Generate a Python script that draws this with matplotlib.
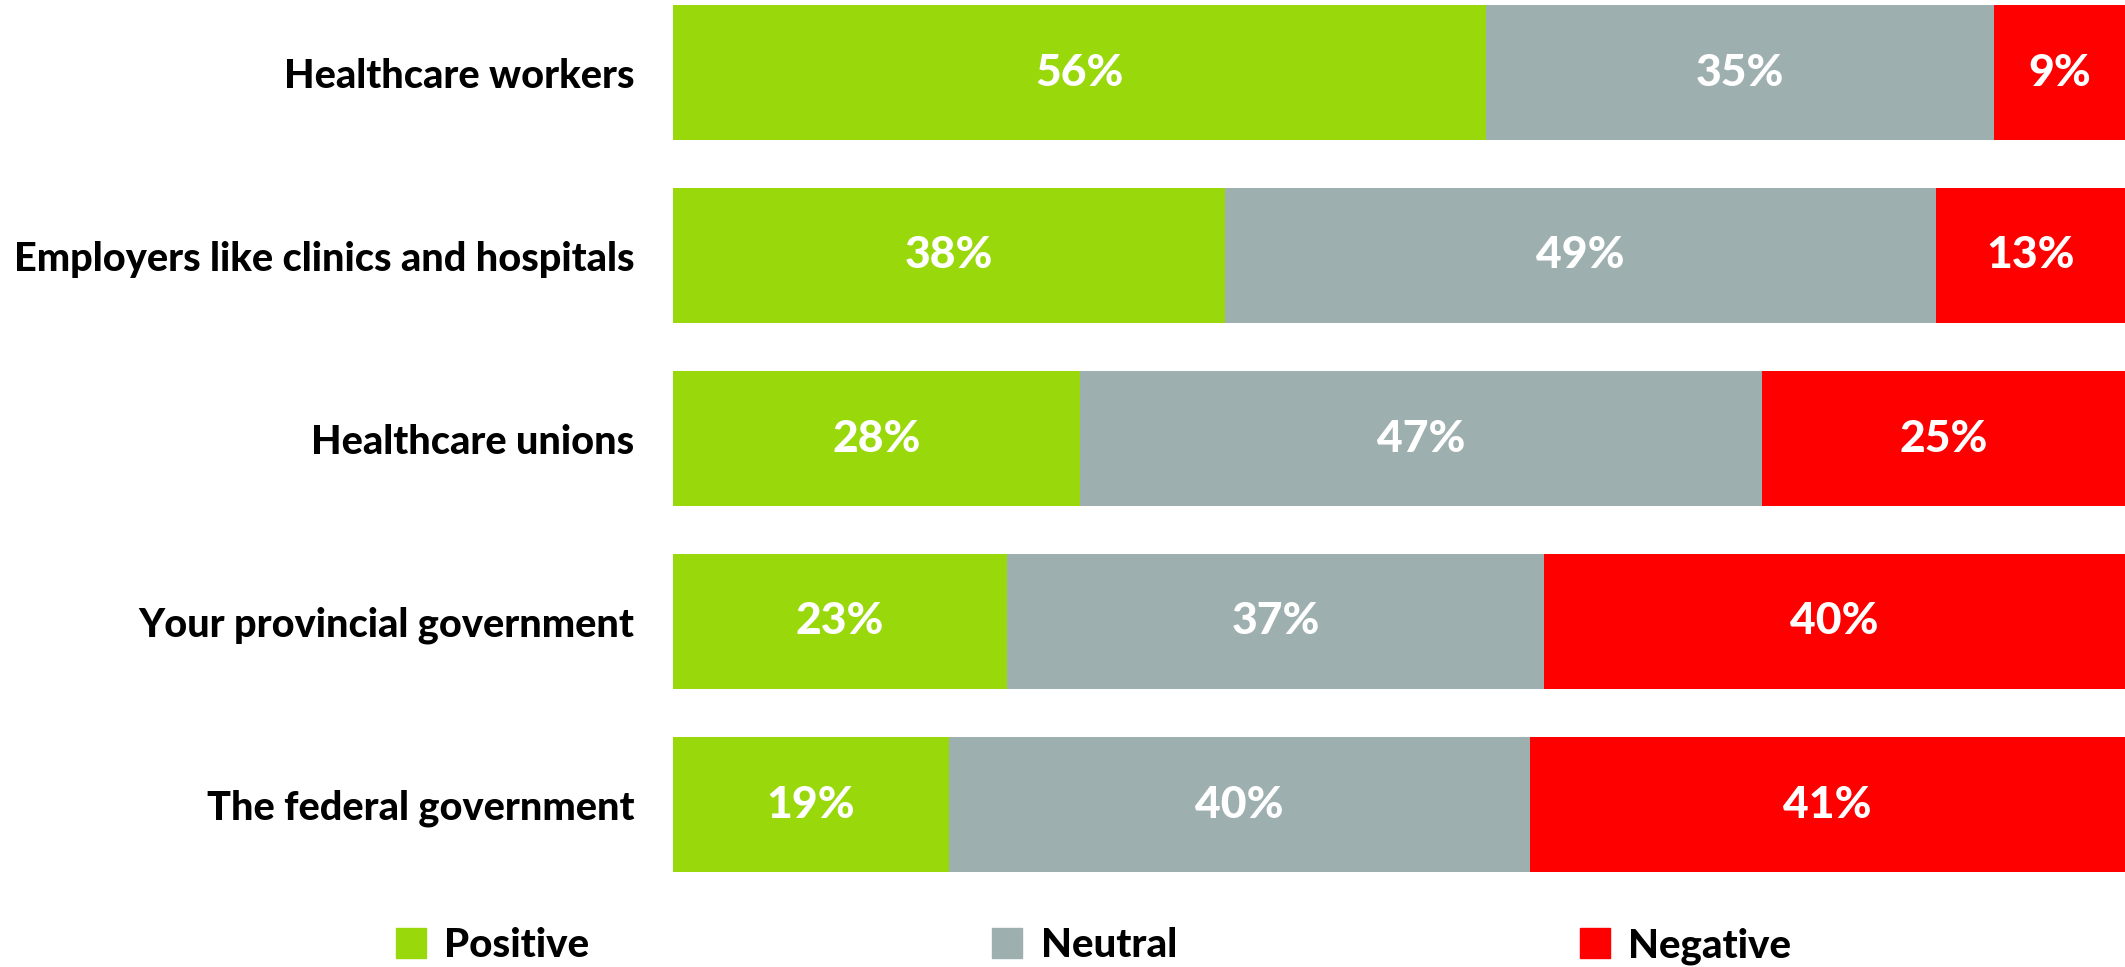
import numpy as np
import matplotlib.pyplot as plt
from matplotlib.patches import Patch

plt.rcParams['font.family'] = ['Lato', 'DejaVu Sans']

# data
groups = ['Healthcare workers', 'Employers like clinics and hospitals', 'Healthcare unions',
          'Your provincial government', 'The federal government']
positive = [56, 38, 28, 23, 19]
neutral = [35, 49, 47, 37, 40]
negative = [9, 13, 25, 40, 41]
series_names = ['Positive', 'Neutral', 'Negative']
colors = ['#99D80A', '#9DAFAE', '#FF0000']

fig = plt.figure(figsize=(21.25, 9.67), dpi=100)
ax = fig.add_axes([673 / 2125, 95 / 967, 1 - 673 / 2125, 867 / 967])

y = np.arange(len(groups))
h = 135 / 183
left = np.zeros(len(groups))
for vals, name, c in zip([positive, neutral, negative], series_names, colors):
    bars = ax.barh(y, vals, left=left, height=h, color=c, label=name)
    ax.bar_label(bars, labels=[f'{v}%' for v in vals], label_type='center',
                 color='white', fontsize=32, fontweight='black')
    left += np.array(vals)

ax.set_xlim(0, 100)
ax.set_ylim(len(groups) - 1 + h / 2, -h / 2)
ax.set_yticks(y)
ax.set_yticklabels(groups, fontsize=28.5, fontweight='black')
ax.tick_params(axis='y', length=0, pad=28)
ax.set_xticks([])
for s in ax.spines.values():
    s.set_visible(False)

handles = [Patch(color=c) for c in colors]
fig.legend(handles, series_names, ncol=3, loc='center left', bbox_to_anchor=(396 / 2125, 1 - 946 / 967),
           frameon=False, prop={'size': 29, 'weight': 'black'}, handlelength=0.75, handleheight=0.75,
           handletextpad=0.45, columnspacing=10.0, borderpad=0, borderaxespad=0)

fig.savefig('out.png', dpi=100)
